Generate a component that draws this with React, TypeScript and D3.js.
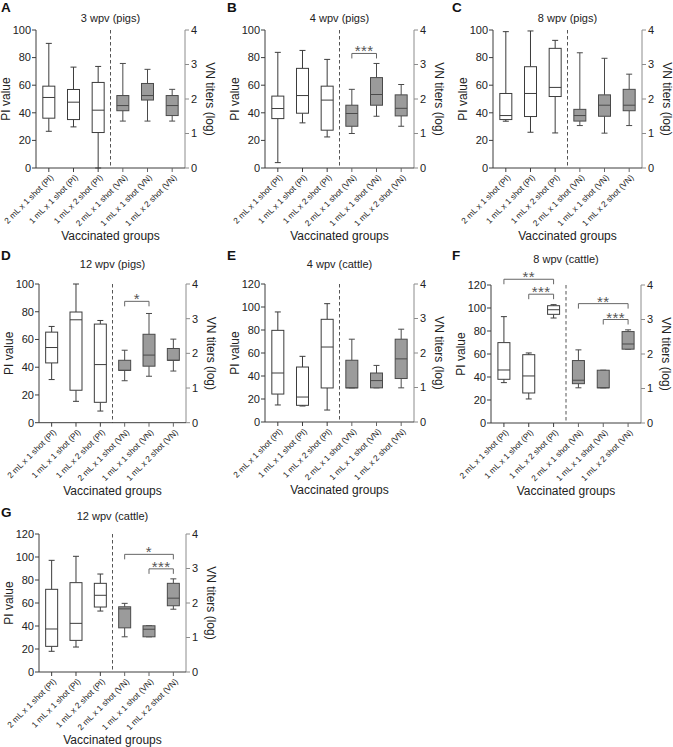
import React from 'react';
import * as d3 from 'd3';

const categories = [
  '2 mL x 1 shot (PI)',
  '1 mL x 1 shot (PI)',
  '1 mL x 2 shot (PI)',
  '2 mL x 1 shot (VN)',
  '1 mL x 1 shot (VN)',
  '1 mL x 2 shot (VN)',
];

const panelLetters = ['A', 'B', 'C', 'D', 'E', 'F', 'G'];
const panelTitles = [
  '3 wpv (pigs)',
  '4 wpv (pigs)',
  '8 wpv (pigs)',
  '12 wpv (pigs)',
  '4 wpv (cattle)',
  '8 wpv (cattle)',
  '12 wpv (cattle)',
];
const piTicksPigs = [0, 20, 40, 60, 80, 100];
const piTicksCattle = [0, 20, 40, 60, 80, 100, 120];
const vnTicks = [0, 1, 2, 3, 4];

// [min, q1, median, q3, max]; PI groups in PI value, VN groups in log titers
const piA = [[26.6, 36.1, 51.1, 59.3, 90.3], [29.8, 35.1, 47.7, 56.9, 73.1], [0, 25.7, 41.9, 62, 73.6]];
const vnA = [[1.36, 1.66, 1.81, 2.1, 3.03], [1.36, 1.97, 2.1, 2.45, 2.86], [1.36, 1.52, 1.81, 2.1, 2.28]];
const piB = [[3.9, 35.8, 43.1, 52.1, 83.8], [32.7, 39.7, 52.5, 72.2, 85.2], [22.5, 27.4, 49.2, 59.3, 78.7]];
const vnB = [[1.0, 1.21, 1.58, 1.82, 2.28], [1.5, 1.82, 2.13, 2.62, 3.03], [1.21, 1.51, 1.73, 2.12, 2.42]];
const piC = [[33.9, 35.1, 38, 54, 98.8], [25.9, 37.3, 54, 73.4, 99.3], [25.4, 51.8, 58.4, 86.7, 92.5]];
const vnC = [[1.23, 1.36, 1.52, 1.7, 3.34], [1.01, 1.5, 1.82, 2.12, 3.18], [1.23, 1.66, 1.82, 2.28, 2.72]];
const piD = [[31.1, 43.1, 54.2, 65.3, 69.4], [15.4, 23.4, 74.2, 79.8, 100], [8.4, 14.7, 41.9, 71.1, 73.7]];
const vnD = [[1.21, 1.51, 1.51, 1.8, 2.09], [1.34, 1.63, 1.95, 2.55, 3.15], [1.49, 1.8, 1.8, 2.14, 2.41]];
const piE = [[14.8, 24.3, 42.6, 79.7, 95.7], [13.9, 14.5, 21.7, 47.8, 57.1], [10.4, 29.6, 65.2, 89.3, 102.9]];
const vnE = [[0.99, 0.99, 0.99, 1.79, 2.4], [0.99, 0.99, 1.2, 1.42, 1.64], [0.99, 1.26, 1.83, 2.4, 2.69]];
const piF = [[35.1, 38, 46.1, 69.9, 92.5], [20.9, 26.1, 40.9, 59.4, 60.9], [91.3, 94.5, 98.5, 102, 102.9]];
const vnF = [[1.02, 1.14, 1.24, 1.81, 2.12], [1.02, 1.02, 1.02, 1.53, 1.53], [2.14, 2.14, 2.29, 2.65, 2.7]];
const piG = [[18.0, 22.3, 37.4, 71.9, 97.1], [21.7, 27.5, 42.3, 77.7, 100.6], [53, 56.5, 66.7, 77.1, 85.2]];
const vnG = [[1.02, 1.28, 1.83, 1.89, 1.99], [1.02, 1.02, 1.24, 1.34, 1.34], [1.82, 1.92, 2.14, 2.57, 2.7]];

// significance brackets: [fromGroup, toGroup, level, label, axis]
const sigB = [[3, 4, 3.32, '***', 'vn']];
const sigD = [[3, 4, 3.5, '*', 'vn']];
const sigF = [[0, 2, 125, '**', 'pi'], [1, 2, 112, '***', 'pi'], [3, 5, 3.46, '**', 'vn'], [4, 5, 3.0, '***', 'vn']];
const sigG = [[3, 5, 3.41, '*', 'vn'], [4, 5, 2.99, '***', 'vn']];

const piSets = [piA, piB, piC, piD, piE, piF, piG];
const vnSets = [vnA, vnB, vnC, vnD, vnE, vnF, vnG];
const sigSets = [[], sigB, [], sigD, [], sigF, sigG];
const piTickSets = [piTicksPigs, piTicksPigs, piTicksPigs, piTicksPigs, piTicksCattle, piTicksCattle, piTicksCattle];

// layout (pixel frames of plot areas)
const frames = [
  { L: 36, R: 185, T: 30, B: 168, letterY: 12, titleY: 22 },
  { L: 265, R: 414, T: 30, B: 168, letterY: 12, titleY: 22 },
  { L: 493, R: 642, T: 30, B: 168, letterY: 12, titleY: 22 },
  { L: 39, R: 186, T: 284, B: 422.7, letterY: 260, titleY: 268 },
  { L: 265, R: 414, T: 284, B: 422, letterY: 260, titleY: 268 },
  { L: 491, R: 641, T: 285, B: 423, letterY: 260, titleY: 263 },
  { L: 39, R: 186, T: 534, B: 672, letterY: 517, titleY: 520 },
];
const letterX = [1, 227, 452, 1, 227, 452, 1];

const FONT = "'Liberation Sans', Arial, Helvetica, sans-serif";
const DARK = '#3c3c3c';
const GRAY = '#8c8c8c';
const BOXFILL = '#9b9b9b';

function Panel({ i }: { i: number }) {
  const f = frames[i];
  const piTicks = piTickSets[i];
  const piMax = piTicks[piTicks.length - 1];
  const x = d3.scaleBand<string>().domain(categories).range([f.L, f.R]).paddingInner(0).paddingOuter(0.02);
  const yL = d3.scaleLinear().domain([0, piMax]).range([f.B, f.T]);
  const yR = d3.scaleLinear().domain([0, 4]).range([f.B, f.T]);
  const cxOf = (k: number) => (x(categories[k]) as number) + x.bandwidth() / 2;
  const bw = 12;
  const cap = 3;
  const groups = [
    ...piSets[i].map((s, k) => ({ s, k, y: yL, vn: false })),
    ...vnSets[i].map((s, k) => ({ s, k: k + 3, y: yR, vn: true })),
  ];
  const midX = (cxOf(2) + cxOf(3)) / 2;
  const cx = (f.L + f.R) / 2;
  const cy = (f.T + f.B) / 2;
  return (
    <g fontFamily={FONT}>
      <text x={letterX[i]} y={f.letterY} fontSize={13.5} fontWeight="bold" fill="#111">{panelLetters[i]}</text>
      <text x={cx} y={f.titleY} fontSize={11} textAnchor="middle" fill="#222">{panelTitles[i]}</text>
      {/* dashed divider */}
      <line x1={midX} x2={midX} y1={f.T} y2={f.B} stroke="#555" strokeDasharray="3.5,2.5" strokeWidth={1} />
      {/* boxes */}
      {groups.map(({ s, k, y, vn }) => {
        const c = cxOf(k);
        const stroke = vn ? '#4a4a4a' : DARK;
        const [mn, q1, md, q3, mx] = s;
        return (
          <g key={k} stroke={stroke} strokeWidth={1} fill="none">
            <line x1={c} x2={c} y1={y(q3)} y2={y(mx)} />
            <line x1={c} x2={c} y1={y(q1)} y2={y(mn)} />
            <line x1={c - cap} x2={c + cap} y1={y(mx)} y2={y(mx)} />
            <line x1={c - cap} x2={c + cap} y1={y(mn)} y2={y(mn)} />
            <rect x={c - bw / 2} width={bw} y={y(q3)} height={Math.max(0.5, y(q1) - y(q3))} fill={vn ? BOXFILL : '#fff'} />
            <line x1={c - bw / 2} x2={c + bw / 2} y1={y(md)} y2={y(md)} />
          </g>
        );
      })}
      {/* significance brackets */}
      {sigSets[i].map((b: any, j: number) => {
        const [a, c, lvl, lab, ax] = b;
        const yy = (ax === 'vn' ? yR : yL)(lvl);
        const x1 = cxOf(a);
        const x2 = cxOf(c);
        return (
          <g key={'s' + j}>
            <path d={`M${x1},${yy + 5}V${yy}H${x2}V${yy + 5}`} fill="none" stroke="#666" strokeWidth={1} />
            <text x={(x1 + x2) / 2} y={yy + 3} textAnchor="middle" fontSize={15} letterSpacing={0.5} fill="#555">{lab}</text>
          </g>
        );
      })}
      {/* left axis */}
      <line x1={f.L} x2={f.L} y1={f.T} y2={f.B} stroke={DARK} />
      {piTicks.map((t) => (
        <g key={'l' + t}>
          <line x1={f.L - 4} x2={f.L} y1={yL(t)} y2={yL(t)} stroke={DARK} />
          <text x={f.L - 5} y={yL(t)} dy="0.35em" textAnchor="end" fontSize={11} fill="#222">{t}</text>
        </g>
      ))}
      {/* right axis */}
      <line x1={f.R} x2={f.R} y1={f.T} y2={f.B} stroke={GRAY} />
      {vnTicks.map((t) => (
        <g key={'r' + t}>
          <line x1={f.R} x2={f.R + 4} y1={yR(t)} y2={yR(t)} stroke={GRAY} />
          <text x={f.R + 6} y={yR(t)} dy="0.35em" textAnchor="start" fontSize={11} fill="#222">{t}</text>
        </g>
      ))}
      {/* bottom axis */}
      <line x1={f.L} x2={f.R} y1={f.B} y2={f.B} stroke={DARK} />
      {categories.map((c, k) => (
        <g key={'b' + k}>
          <line x1={cxOf(k)} x2={cxOf(k)} y1={f.B} y2={f.B + 4} stroke={k < 3 ? DARK : '#666'} />
          <text transform={`translate(${cxOf(k) + 3},${f.B + 8}) rotate(-45)`} dy="0.35em" textAnchor="end" fontSize={8.3} fill="#222">{c}</text>
        </g>
      ))}
      <text transform={`translate(${f.L - 26},${cy}) rotate(-90)`} textAnchor="middle" fontSize={12} fill="#222">PI value</text>
      <text transform={`translate(${f.R + 21},${cy}) rotate(90)`} textAnchor="middle" fontSize={12} fill="#222">VN titers (log)</text>
      <text x={cx} y={f.B + 72} textAnchor="middle" fontSize={12} fill="#222">Vaccinated groups</text>
    </g>
  );
}

export default function App() {
  return (
    <svg width={673} height={747} style={{ position: 'absolute', left: 0, top: 0, background: '#fff' }}>
      <rect width={673} height={747} fill="#fff" />
      {frames.map((_, i) => (
        <Panel key={i} i={i} />
      ))}
    </svg>
  );
}
